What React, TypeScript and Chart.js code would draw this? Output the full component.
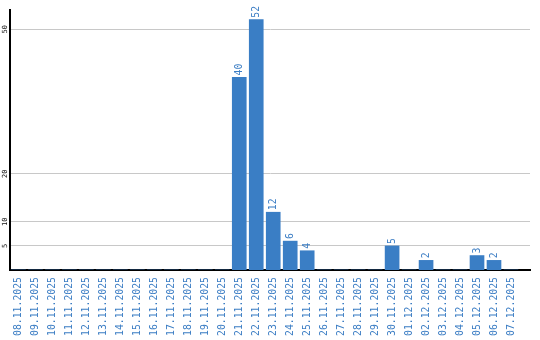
import React, { useEffect, useRef } from "react";
import { Chart, registerables } from "chart.js";
Chart.register(...registerables);

const dates = [
  "08.11.2025", "09.11.2025", "10.11.2025", "11.11.2025", "12.11.2025",
  "13.11.2025", "14.11.2025", "15.11.2025", "16.11.2025", "17.11.2025",
  "18.11.2025", "19.11.2025", "20.11.2025", "21.11.2025", "22.11.2025",
  "23.11.2025", "24.11.2025", "25.11.2025", "26.11.2025", "27.11.2025",
  "28.11.2025", "29.11.2025", "30.11.2025", "01.12.2025", "02.12.2025",
  "03.12.2025", "04.12.2025", "05.12.2025", "06.12.2025", "07.12.2025",
];
const values = [
  0, 0, 0, 0, 0, 0, 0, 0, 0, 0,
  0, 0, 0, 40, 52, 12, 6, 4, 0, 0,
  0, 0, 5, 0, 2, 0, 0, 3, 2, 0,
];
const yTicks = [5, 10, 20, 50];

const BLUE = "#3a7ec5";
const TEXT_BLUE = "#3b7dc4";
const MONO = '"DejaVu Sans Mono", monospace';

const labelPlugin = {
  id: "customLabels",
  afterDatasetsDraw(chart: any) {
    const ctx = chart.ctx;
    const xs = chart.scales.x;
    const ys = chart.scales.y;
    const area = chart.chartArea;
    ctx.save();
    // x labels
    ctx.font = `9.8px ${MONO}`;
    ctx.fillStyle = TEXT_BLUE;
    dates.forEach((d, i) => {
      const x = xs.getPixelForValue(i);
      ctx.save();
      ctx.translate(x, area.bottom + 7);
      ctx.rotate(-Math.PI / 2);
      ctx.textAlign = "right";
      ctx.textBaseline = "middle";
      ctx.fillText(d, 0, 0);
      ctx.restore();
    });
    // data labels
    values.forEach((v, i) => {
      if (!v) return;
      const x = xs.getPixelForValue(i);
      const y = ys.getPixelForValue(v);
      ctx.save();
      ctx.translate(x, y - 2);
      ctx.rotate(-Math.PI / 2);
      ctx.textAlign = "left";
      ctx.textBaseline = "middle";
      ctx.fillText(String(v), 0, 0);
      ctx.restore();
    });
    // y labels
    ctx.font = `7px ${MONO}`;
    ctx.fillStyle = "#111";
    yTicks.forEach((t) => {
      const y = ys.getPixelForValue(t);
      ctx.save();
      ctx.translate(area.left - 5, y);
      ctx.rotate(-Math.PI / 2);
      ctx.textAlign = "center";
      ctx.textBaseline = "middle";
      ctx.fillText(String(t), 0, 0);
      ctx.restore();
    });
    ctx.restore();
  },
};

export default function App() {
  const ref = useRef<HTMLCanvasElement>(null);
  useEffect(() => {
    document.body.style.margin = "0";
    const chart = new Chart(ref.current!, {
      type: "bar",
      data: {
        datasets: [
          {
            data: values.map((v, i) => ({ x: i, y: v })),
            backgroundColor: BLUE,
            borderWidth: 0,
            barThickness: 14,
          },
        ],
      },
      options: {
        animation: false,
        responsive: false,
        layout: { padding: { left: 10, right: 10, top: 10, bottom: 70 } },
        plugins: { legend: { display: false }, tooltip: { enabled: false } },
        scales: {
          x: {
            type: "linear",
            offset: false,
            min: -0.5,
            max: 30.12,
            ticks: { display: false },
            grid: { display: false, drawTicks: false, offset: false },
            border: { display: true, color: "#000", width: 2 },
          },
          y: {
            type: "linear",
            min: 0,
            max: 54,
            afterBuildTicks: (scale: any) => {
              scale.ticks = yTicks.map((v) => ({ value: v }));
            },
            ticks: { display: false },
            grid: { color: "#c8c8c8", lineWidth: 1, drawTicks: false },
            border: { display: true, color: "#000", width: 2 },
          },
        },
      },
      plugins: [labelPlugin],
    });
    return () => chart.destroy();
  }, []);
  return <canvas ref={ref} width={540} height={340} />;
}
